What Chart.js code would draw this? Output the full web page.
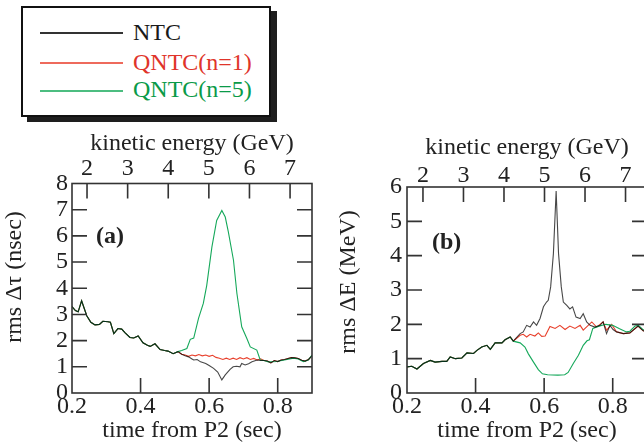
<!DOCTYPE html>
<html>
<head>
<meta charset="utf-8">
<script src="https://cdn.jsdelivr.net/npm/chart.js@4.4.1/dist/chart.umd.min.js"></script>
<style>
  html, body { margin:0; padding:0; background:#fff; width:644px; height:447px; overflow:hidden; }
  body { position:relative; font-family:'Liberation Serif', 'Times New Roman', serif; }
  #legend { position:absolute; left:21px; top:6px; width:246px; height:107px; border:2px solid #111; box-shadow:6px 5px 0 #1e1e1e; background:#fff; }
  .lline { position:absolute; left:17px; width:83px; height:2px; }
  .ltext { position:absolute; left:110px; font-size:24px; line-height:28px; white-space:nowrap; }
  .plabel { position:absolute; font-size:24px; line-height:28px; font-weight:bold; color:#222; }
  canvas { position:absolute; }
</style>
</head>
<body>
<div id="legend"></div>
<canvas id="ca" width="330" height="327" style="left:0px;top:120px;"></canvas>
<canvas id="cb" width="320" height="327" style="left:330px;top:120px;"></canvas>
<div class="plabel" style="left:96px;top:221px;">(a)</div>
<div class="plabel" style="left:432px;top:227px;">(b)</div>
<script>
// ---------- series names / colours ----------
const SERIES = ['NTC', 'QNTC(n=1)', 'QNTC(n=5)'];
const LINE_COLORS = ['rgba(0,0,0,0.72)', '#e8402c', '#15a85a'];
const LEGEND_LINE_COLORS = ['#333333', '#ee6a5c', '#4cbd80'];
const TEXT_COLORS = ['#1a1a1a', '#e0342a', '#0a9a48'];

// ---------- tick labels ----------
const TIME_TICKS = [0.2, 0.4, 0.6, 0.8];
const ENERGY_TICKS = [2, 3, 4, 5, 6, 7];
const TAU_TICKS = [0, 1, 2, 3, 4, 5, 6, 7, 8];
const DE_TICKS = [0, 1, 2, 3, 4, 5, 6];

// ---------- panel (a): rms Δτ (nsec) ----------
const A_COMMON_T = [0.200,0.210,0.218,0.228,0.243,0.255,0.267,0.280,0.290,0.305,0.312,0.322,0.334,0.345,0.355,0.369,0.380,0.393,0.407,0.420,0.428,0.442,0.457,0.470,0.480,0.495,0.509];
const A_COMMON_V = [3.30,3.15,3.10,3.52,2.95,2.70,2.60,2.62,2.74,2.72,2.70,2.27,2.46,2.44,2.30,2.12,2.10,2.18,1.92,1.82,1.78,1.88,1.66,1.62,1.60,1.50,1.58];

const A_NTC_T = [0.520,0.530,0.540,0.550,0.555,0.565,0.575,0.590,0.600,0.613,0.625,0.637,0.647,0.661,0.670,0.680,0.690,0.695,0.705,0.715,0.725,0.740,0.750];
const A_NTC_V = [1.48,1.42,1.38,1.30,1.26,1.28,1.19,1.13,1.05,0.94,0.80,0.50,0.69,0.90,1.00,1.02,1.00,1.13,1.07,1.12,1.19,1.26,1.24];

const A_QN1_T = [0.520,0.530,0.540,0.550,0.560,0.570,0.580,0.590,0.600,0.610,0.620,0.630,0.640,0.650,0.660,0.670,0.680,0.690,0.700,0.710,0.720,0.730,0.740,0.750];
const A_QN1_V = [1.48,1.45,1.40,1.45,1.42,1.47,1.42,1.45,1.40,1.44,1.36,1.33,1.28,1.33,1.28,1.33,1.28,1.35,1.30,1.35,1.28,1.32,1.26,1.30];

// shared end of NTC and QNTC(n=1)
const A_TAIL_T = [0.760,0.770,0.780,0.790,0.800,0.810,0.820,0.830,0.840,0.850,0.860,0.870,0.880,0.890,0.900];
const A_TAIL_V = [1.24,1.22,1.15,1.24,1.20,1.26,1.28,1.32,1.35,1.34,1.32,1.25,1.22,1.28,1.42];

const A_QN5_T = [0.520,0.535,0.545,0.555,0.569,0.583,0.593,0.608,0.622,0.637,0.647,0.656,0.671,0.681,0.695,0.710,0.720,0.739,0.749,0.760,0.773,0.797,0.827,0.846,0.860,0.875,0.889,0.900];
const A_QN5_V = [1.62,1.70,2.05,2.10,2.85,3.42,4.11,5.57,6.59,6.97,6.72,6.15,5.07,3.80,2.53,2.08,1.76,1.64,1.26,1.24,1.19,1.20,1.28,1.33,1.30,1.20,1.26,1.45];

// ---------- panel (b): rms ΔE (MeV) ----------
const B_COMMON_T = [0.200,0.214,0.229,0.248,0.268,0.282,0.302,0.316,0.326,0.341,0.360,0.375,0.394,0.404,0.418,0.433,0.443,0.457,0.477,0.486,0.501,0.510];
const B_COMMON_V = [0.76,0.78,0.70,0.86,0.95,0.90,0.92,0.92,1.05,1.00,1.02,1.17,1.15,1.24,1.34,1.39,1.27,1.46,1.46,1.55,1.63,1.51];

const B_NTC_T = [0.530,0.539,0.549,0.559,0.569,0.578,0.588,0.598,0.607,0.612,0.619,0.627,0.635,0.642,0.650,0.656,0.666,0.675,0.683,0.693,0.705,0.714,0.724,0.734,0.748,0.763,0.772,0.782,0.792,0.801];
const B_NTC_V = [1.73,1.78,1.97,1.92,2.07,1.97,2.17,2.51,2.65,2.70,3.09,4.06,5.88,4.06,3.09,2.65,2.55,2.45,2.51,2.21,2.17,2.31,2.07,1.97,1.92,1.97,2.07,1.73,1.97,1.85];

const B_QN1_T = [0.530,0.539,0.549,0.559,0.573,0.583,0.593,0.603,0.617,0.632,0.646,0.661,0.675,0.690,0.705,0.714,0.739,0.753,0.772,0.782,0.797];
const B_QN1_V = [1.68,1.71,1.63,1.71,1.66,1.75,1.65,1.66,1.94,1.88,1.97,1.85,1.95,1.88,1.97,1.83,2.07,1.92,2.07,1.83,2.00];

const B_TAIL_T = [0.811,0.831,0.850,0.874,0.889,0.900];
const B_TAIL_V = [1.78,1.73,1.75,1.95,1.81,1.78];

const B_QN5_T = [0.530,0.544,0.554,0.569,0.583,0.595,0.610,0.640,0.660,0.670,0.685,0.700,0.714,0.725,0.732,0.742,0.758,0.780,0.800,0.820,0.840,0.850,0.865,0.875,0.889,0.900];
const B_QN5_V = [1.46,1.34,1.14,0.90,0.68,0.56,0.53,0.52,0.53,0.60,0.86,1.10,1.39,1.52,1.55,1.88,1.94,2.00,1.97,1.87,1.78,1.80,1.95,1.97,1.84,1.80];

// ---------- helpers ----------
function pts(tArrs, vArrs) {
  const out = [];
  tArrs.forEach((ts, k) => ts.forEach((t, i) => out.push({ x: t, y: vArrs[k][i] })));
  return out;
}

// legend (HTML)
(function buildLegend() {
  const lg = document.getElementById('legend');
  const lineTops = [24, 54, 82];
  const textTops = [10, 40, 67];
  SERIES.forEach((name, i) => {
    const l = document.createElement('div');
    l.className = 'lline';
    l.style.top = lineTops[i] + 'px';
    l.style.backgroundColor = LEGEND_LINE_COLORS[i];
    lg.appendChild(l);
    const t = document.createElement('div');
    t.className = 'ltext';
    t.style.top = textTops[i] + 'px';
    t.style.color = TEXT_COLORS[i];
    t.textContent = name;
    lg.appendChild(t);
  });
})();

Chart.defaults.font.family = "'Liberation Serif', 'Times New Roman', serif";
Chart.defaults.font.size = 24;
Chart.defaults.font.lineHeight = 1.2;
Chart.defaults.color = '#222';

// frame, inward ticks and the vertical axis title
const frameTicks = {
  id: 'frameTicks',
  afterDatasetsDraw(chart, args, opts) {
    const { ctx, chartArea: a, scales } = chart;
    const L = 15;
    ctx.save();
    ctx.strokeStyle = '#333';
    ctx.lineWidth = 1.6;
    ctx.strokeRect(a.left, a.top, a.right - a.left, a.bottom - a.top);
    ctx.beginPath();
    scales.y.ticks.forEach(t => {
      const p = scales.y.getPixelForValue(t.value);
      if (p > a.top + 1 && p < a.bottom - 1) {
        ctx.moveTo(a.left, p); ctx.lineTo(a.left + L, p);
        ctx.moveTo(a.right, p); ctx.lineTo(a.right - L, p);
      }
    });
    scales.x.ticks.forEach(t => {
      const p = scales.x.getPixelForValue(t.value);
      if (p > a.left + 1 && p < a.right - 1) { ctx.moveTo(p, a.bottom); ctx.lineTo(p, a.bottom - L); }
    });
    scales.x2.ticks.forEach(t => {
      const p = scales.x2.getPixelForValue(t.value);
      if (p > a.left + 1 && p < a.right - 1) { ctx.moveTo(p, a.top); ctx.lineTo(p, a.top + L); }
    });
    ctx.stroke();
    // y title
    ctx.fillStyle = '#222';
    ctx.font = "24px 'Liberation Serif', 'Times New Roman', serif";
    ctx.textAlign = 'center';
    ctx.textBaseline = 'middle';
    ctx.translate(opts.x, opts.y);
    ctx.rotate(-Math.PI / 2);
    ctx.fillText(opts.text, 0, 0);
    ctx.restore();
  }
};

function makeChart(id, cfg) {
  const ds = cfg.series.map((data, i) => ({
    label: SERIES[i],
    data,
    borderColor: LINE_COLORS[i],
    borderWidth: 1.1,
    pointRadius: 0,
    tension: 0,
    fill: false
  }));
  // draw order: red (bottom), green, black (top, translucent)
  ds[0].order = 1; ds[2].order = 2; ds[1].order = 3;
  return new Chart(document.getElementById(id), {
    type: 'line',
    data: { datasets: ds },
    options: {
      responsive: false,
      animation: false,
      devicePixelRatio: 1,
      layout: { padding: { left: 0, right: cfg.padRight, top: 0, bottom: 0 } },
      plugins: {
        legend: { display: false }, tooltip: { enabled: false },
        frameTicks: { text: cfg.yTitle, x: cfg.yTitleX, y: cfg.yTitleY }
      },
      scales: {
        x: {
          type: 'linear', position: 'bottom', min: 0.2, max: 0.9,
          afterBuildTicks: s => { s.ticks = TIME_TICKS.map(v => ({ value: v })); },
          ticks: { padding: -1, maxRotation: 0, autoSkip: false, callback: v => Number(v).toFixed(1) },
          grid: { display: false, drawTicks: false },
          border: { display: false },
          title: { display: true, text: 'time from P2 (sec)', padding: { top: 0, bottom: 2 } },
          afterFit: s => { s.height = 54; }
        },
        x2: {
          type: 'linear', position: 'top', min: cfg.eMin, max: cfg.eMax,
          afterBuildTicks: s => { s.ticks = ENERGY_TICKS.map(v => ({ value: v })); },
          ticks: { padding: cfg.topTickPad, maxRotation: 0, autoSkip: false, callback: v => String(v) },
          grid: { display: false, drawTicks: false },
          border: { display: false },
          title: { display: true, text: 'kinetic energy (GeV)', padding: { top: cfg.topTitlePad, bottom: 0 } },
          afterFit: s => { s.height = cfg.topH; }
        },
        y: {
          type: 'linear', position: 'left', min: 0, max: cfg.yMax,
          afterBuildTicks: s => { s.ticks = cfg.yTicks.map(v => ({ value: v })); },
          ticks: { padding: cfg.yTickPad, autoSkip: false, callback: v => String(v) },
          grid: { display: false, drawTicks: false },
          border: { display: false },
          title: { display: false },
          afterFit: s => { s.width = cfg.yW; }
        }
      }
    },
    plugins: [frameTicks]
  });
}

makeChart('ca', {
  series: [
    pts([A_COMMON_T, A_NTC_T, A_TAIL_T], [A_COMMON_V, A_NTC_V, A_TAIL_V]),
    pts([A_COMMON_T, A_QN1_T, A_TAIL_T], [A_COMMON_V, A_QN1_V, A_TAIL_V]),
    pts([A_COMMON_T, A_QN5_T], [A_COMMON_V, A_QN5_V])
  ],
  yMax: 8, yTicks: TAU_TICKS, yTitle: 'rms \u0394\u03c4 (nsec)', yTitleX: 15, yTitleY: 157,
  eMin: 1.63, eMax: 7.54,
  padRight: 18, topH: 63.5, yW: 72,
  topTickPad: 0, topTitlePad: 9, yTickPad: 4
});

makeChart('cb', {
  series: [
    pts([B_COMMON_T, B_NTC_T, B_TAIL_T], [B_COMMON_V, B_NTC_V, B_TAIL_V]),
    pts([B_COMMON_T, B_QN1_T, B_TAIL_T], [B_COMMON_V, B_QN1_V, B_TAIL_V]),
    pts([B_COMMON_T, B_QN5_T], [B_COMMON_V, B_QN5_V])
  ],
  yMax: 6, yTicks: DE_TICKS, yTitle: 'rms \u0394E (MeV)', yTitleX: 19, yTitleY: 162,
  eMin: 1.606, eMax: 7.53,
  padRight: 3, topH: 67, yW: 77,
  topTickPad: -3, topTitlePad: 13, yTickPad: 5
});
</script>
</body>
</html>
